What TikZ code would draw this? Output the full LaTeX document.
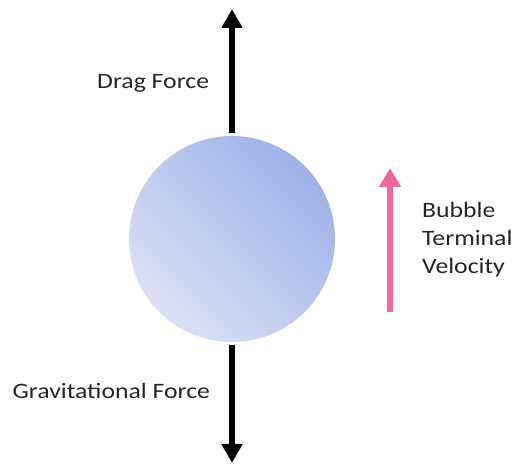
\documentclass[tikz,border=0pt]{standalone}
\usepackage{fontspec}
\setmainfont[FakeStretch=1.17]{Carlito}
\usetikzlibrary{arrows.meta}
\definecolor{bubbleDark}{HTML}{9FB2E7}
\definecolor{bubbleLight}{HTML}{DCE0F5}
\definecolor{velPink}{HTML}{F0679A}
\tikzset{
  force/.style={line width=6.5pt, draw=black, -{Triangle[width=20pt,length=19pt]}},
  velocity/.style={line width=5.5pt, draw=velPink, -{Triangle[width=21pt,length=19pt]}},
  lbl/.style={font=\fontsize{22}{28}\selectfont, text=black!85, inner sep=0pt},
  bubblestyle/.style={circle, minimum size=206pt, inner sep=0pt,
    left color=bubbleDark, right color=bubbleLight, shading angle=-45}
}
\begin{document}
\begin{tikzpicture}[x=1pt,y=-1pt]
\useasboundingbox (0,0) rectangle (515,465);
\node[bubblestyle] (bubble) at (232,239) {};
\coordinate (dragtip) at (232,9);
\coordinate (gravtip) at (232,463);
\coordinate (vbot) at (390,312);
\coordinate (vtop) at (390,168);
\draw[force] ([yshift=3pt]bubble.north) -- (dragtip);
\draw[force] ([yshift=-3pt]bubble.south) -- (gravtip);
\draw[velocity] (vbot) -- (vtop);
\node[lbl, anchor=base west] (drag) at (97,89) {Drag Force};
\node[lbl, anchor=base west] (grav) at (12.5,399) {Gravitational Force};
\node[lbl, anchor=base west, align=left] (vel) at (422,274) {Bubble\\Terminal\\Velocity};
\end{tikzpicture}
\end{document}
